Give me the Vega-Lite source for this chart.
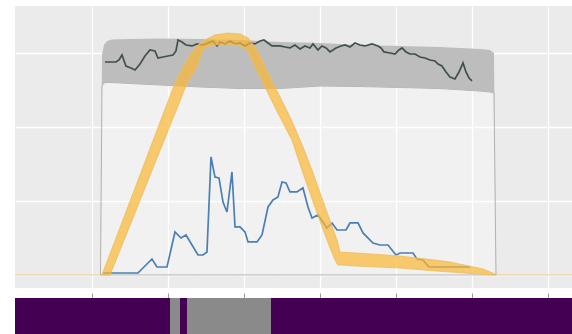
{
  "$schema": "https://vega.github.io/schema/vega-lite/v6.json",
  "background": "white",
  "padding": {"left": 12, "top": 6, "right": 0, "bottom": 0},
  "spacing": 4,
  "config": {
    "view": {"stroke": null},
    "axis": {"labels": false, "ticks": false, "domain": false, "title": null, "gridColor": "#ffffff", "gridWidth": 1.3}
  },
  "datasets": {
    "band": [
      {"x": 11.118, "lo": 0, "hi": 0},
      {"x": 11.316, "lo": 2.554, "hi": 2.973},
      {"x": 11.579, "lo": 2.595, "hi": 3.108},
      {"x": 11.974, "lo": 2.601, "hi": 3.162},
      {"x": 12.632, "lo": 2.601, "hi": 3.182},
      {"x": 15.0, "lo": 2.588, "hi": 3.189},
      {"x": 18.947, "lo": 2.568, "hi": 3.196},
      {"x": 24.211, "lo": 2.541, "hi": 3.189},
      {"x": 29.474, "lo": 2.52, "hi": 3.176},
      {"x": 34.737, "lo": 2.52, "hi": 3.149},
      {"x": 40.0, "lo": 2.554, "hi": 3.135},
      {"x": 45.263, "lo": 2.547, "hi": 3.108},
      {"x": 50.526, "lo": 2.534, "hi": 3.095},
      {"x": 55.789, "lo": 2.52, "hi": 3.081},
      {"x": 61.053, "lo": 2.486, "hi": 3.054},
      {"x": 62.368, "lo": 2.473, "hi": 3.041},
      {"x": 62.895, "lo": 2.459, "hi": 3.0},
      {"x": 63.158, "lo": 0, "hi": 0}
    ],
    "greyline": [
      {"x": 11.71, "y": 2.878}, {"x": 12.37, "y": 2.878}, {"x": 13.16, "y": 2.878}, {"x": 13.55, "y": 2.905},
      {"x": 13.95, "y": 2.973}, {"x": 14.47, "y": 2.824}, {"x": 15.13, "y": 2.797}, {"x": 15.66, "y": 2.77},
      {"x": 16.32, "y": 2.851}, {"x": 16.97, "y": 2.959}, {"x": 17.63, "y": 3.041}, {"x": 18.29, "y": 3.027},
      {"x": 18.68, "y": 2.932}, {"x": 19.34, "y": 2.946}, {"x": 20.0, "y": 2.959}, {"x": 20.66, "y": 2.973},
      {"x": 21.05, "y": 3.027}, {"x": 21.32, "y": 3.176}, {"x": 21.84, "y": 3.149}, {"x": 22.37, "y": 3.108},
      {"x": 23.16, "y": 3.095}, {"x": 23.82, "y": 3.122}, {"x": 24.47, "y": 3.108}, {"x": 25.0, "y": 3.122},
      {"x": 25.53, "y": 3.149}, {"x": 25.92, "y": 3.162}, {"x": 26.45, "y": 3.095}, {"x": 26.84, "y": 3.149},
      {"x": 27.5, "y": 3.122}, {"x": 28.16, "y": 3.162}, {"x": 28.82, "y": 3.122}, {"x": 29.47, "y": 3.135},
      {"x": 30.13, "y": 3.095}, {"x": 30.79, "y": 3.135}, {"x": 31.45, "y": 3.122}, {"x": 32.11, "y": 3.162},
      {"x": 32.63, "y": 3.176}, {"x": 33.16, "y": 3.135}, {"x": 33.68, "y": 3.095}, {"x": 34.74, "y": 3.095},
      {"x": 35.39, "y": 3.081}, {"x": 36.05, "y": 3.068}, {"x": 36.71, "y": 3.108}, {"x": 37.37, "y": 3.054},
      {"x": 38.03, "y": 3.095}, {"x": 38.68, "y": 3.068}, {"x": 39.08, "y": 3.122}, {"x": 39.74, "y": 3.041},
      {"x": 40.26, "y": 3.095}, {"x": 40.79, "y": 3.068}, {"x": 41.32, "y": 3.014}, {"x": 42.11, "y": 3.068},
      {"x": 42.76, "y": 3.095}, {"x": 43.29, "y": 3.108}, {"x": 43.95, "y": 3.081}, {"x": 44.61, "y": 3.135},
      {"x": 45.26, "y": 3.108}, {"x": 45.92, "y": 3.095}, {"x": 46.84, "y": 3.122}, {"x": 47.63, "y": 3.095},
      {"x": 48.03, "y": 3.068}, {"x": 48.42, "y": 3.014}, {"x": 49.21, "y": 3.0}, {"x": 49.87, "y": 2.986},
      {"x": 50.39, "y": 3.041}, {"x": 50.79, "y": 3.068}, {"x": 51.32, "y": 3.014}, {"x": 51.84, "y": 2.986},
      {"x": 52.5, "y": 2.986}, {"x": 53.16, "y": 2.946}, {"x": 53.82, "y": 2.932}, {"x": 54.47, "y": 2.905},
      {"x": 55.13, "y": 2.892}, {"x": 55.53, "y": 2.851}, {"x": 56.05, "y": 2.824}, {"x": 56.58, "y": 2.743},
      {"x": 57.11, "y": 2.676}, {"x": 57.76, "y": 2.649}, {"x": 58.29, "y": 2.743}, {"x": 58.82, "y": 2.865},
      {"x": 59.21, "y": 2.743}, {"x": 59.61, "y": 2.662}, {"x": 60.0, "y": 2.622}
    ],
    "blueline": [
      {"x": 11.45, "y": 0.027}, {"x": 16.05, "y": 0.027}, {"x": 17.89, "y": 0.216}, {"x": 18.55, "y": 0.108},
      {"x": 19.87, "y": 0.108}, {"x": 20.92, "y": 0.581}, {"x": 21.71, "y": 0.5}, {"x": 22.37, "y": 0.541},
      {"x": 23.16, "y": 0.405}, {"x": 23.95, "y": 0.27}, {"x": 24.61, "y": 0.27}, {"x": 25.13, "y": 0.311},
      {"x": 25.66, "y": 1.595}, {"x": 26.18, "y": 1.324}, {"x": 26.71, "y": 1.311}, {"x": 27.24, "y": 0.986},
      {"x": 27.76, "y": 0.851}, {"x": 28.42, "y": 1.392}, {"x": 28.82, "y": 0.649}, {"x": 29.47, "y": 0.649},
      {"x": 30.13, "y": 0.581}, {"x": 30.53, "y": 0.446}, {"x": 31.71, "y": 0.446}, {"x": 32.37, "y": 0.541},
      {"x": 33.16, "y": 0.919}, {"x": 33.82, "y": 1.014}, {"x": 34.47, "y": 1.054}, {"x": 35.0, "y": 1.257},
      {"x": 35.53, "y": 1.243}, {"x": 36.05, "y": 1.122}, {"x": 36.97, "y": 1.122}, {"x": 37.76, "y": 1.176},
      {"x": 38.42, "y": 0.919}, {"x": 38.95, "y": 0.77}, {"x": 39.74, "y": 0.811}, {"x": 40.92, "y": 0.635},
      {"x": 41.58, "y": 0.703}, {"x": 42.24, "y": 0.608}, {"x": 43.42, "y": 0.608}, {"x": 43.95, "y": 0.703},
      {"x": 45.0, "y": 0.703}, {"x": 45.66, "y": 0.568}, {"x": 46.97, "y": 0.432}, {"x": 47.89, "y": 0.405},
      {"x": 48.95, "y": 0.405}, {"x": 50.0, "y": 0.27}, {"x": 50.53, "y": 0.297}, {"x": 52.24, "y": 0.297},
      {"x": 52.76, "y": 0.216}, {"x": 53.55, "y": 0.203}, {"x": 54.34, "y": 0.108}, {"x": 59.74, "y": 0.108}
    ],
    "yellow": [
      {"x": -0.13, "lo": 0, "hi": 0},
      {"x": 11.053, "lo": 0, "hi": 0},
      {"x": 11.316, "lo": 0, "hi": 0},
      {"x": 12.368, "lo": 0, "hi": 0.284},
      {"x": 13.684, "lo": 0.336, "hi": 0.639},
      {"x": 15.0, "lo": 0.673, "hi": 0.995},
      {"x": 16.316, "lo": 1.009, "hi": 1.35},
      {"x": 17.632, "lo": 1.346, "hi": 1.705},
      {"x": 18.947, "lo": 1.682, "hi": 2.061},
      {"x": 20.263, "lo": 2.019, "hi": 2.416},
      {"x": 20.921, "lo": 2.186, "hi": 2.595},
      {"x": 21.579, "lo": 2.355, "hi": 2.73},
      {"x": 21.974, "lo": 2.457, "hi": 2.811},
      {"x": 22.5, "lo": 2.591, "hi": 2.904},
      {"x": 22.895, "lo": 2.659, "hi": 2.973},
      {"x": 23.816, "lo": 2.811, "hi": 3.095},
      {"x": 24.474, "lo": 3.014, "hi": 3.145},
      {"x": 24.868, "lo": 3.081, "hi": 3.176},
      {"x": 26.184, "lo": 3.108, "hi": 3.243},
      {"x": 27.895, "lo": 3.122, "hi": 3.27},
      {"x": 29.474, "lo": 3.099, "hi": 3.257},
      {"x": 30.132, "lo": 3.062, "hi": 3.223},
      {"x": 30.395, "lo": 3.041, "hi": 3.209},
      {"x": 30.526, "lo": 3.012, "hi": 3.203},
      {"x": 31.711, "lo": 2.762, "hi": 3.041},
      {"x": 32.5, "lo": 2.595, "hi": 2.873},
      {"x": 33.816, "lo": 2.324, "hi": 2.595},
      {"x": 34.737, "lo": 2.135, "hi": 2.405},
      {"x": 36.053, "lo": 1.876, "hi": 2.135},
      {"x": 36.316, "lo": 1.824, "hi": 2.073},
      {"x": 37.368, "lo": 1.5, "hi": 1.824},
      {"x": 37.763, "lo": 1.378, "hi": 1.73},
      {"x": 39.079, "lo": 0.996, "hi": 1.378},
      {"x": 39.342, "lo": 0.919, "hi": 1.301},
      {"x": 40.658, "lo": 0.547, "hi": 0.919},
      {"x": 40.921, "lo": 0.473, "hi": 0.845},
      {"x": 41.974, "lo": 0.203, "hi": 0.547},
      {"x": 42.237, "lo": 0.158, "hi": 0.473},
      {"x": 42.368, "lo": 0.135, "hi": 0.419},
      {"x": 42.632, "lo": 0.134, "hi": 0.311},
      {"x": 45.263, "lo": 0.12, "hi": 0.293},
      {"x": 50.526, "lo": 0.095, "hi": 0.257},
      {"x": 54.474, "lo": 0.062, "hi": 0.208},
      {"x": 57.105, "lo": 0.041, "hi": 0.176},
      {"x": 59.737, "lo": 0.022, "hi": 0.119},
      {"x": 61.447, "lo": 0.009, "hi": 0.081},
      {"x": 62.763, "lo": 0, "hi": 0.023},
      {"x": 63.289, "lo": 0, "hi": 0},
      {"x": 73.16, "lo": 0, "hi": 0}
    ],
    "strip": [
      {"x": -0.13, "x2": 20.263, "state": "off"},
      {"x": 20.263, "x2": 21.579, "state": "on"},
      {"x": 21.579, "x2": 22.5, "state": "off"},
      {"x": 22.5, "x2": 33.553, "state": "on"},
      {"x": 33.553, "x2": 73.16, "state": "off"}
    ]
  },
  "vconcat": [
    {
      "width": 557,
      "height": 282,
      "view": {"fill": "#EBEBEB", "stroke": null},
      "encoding": {
        "x": {"field": "x", "type": "quantitative", "scale": {"domain": [-0.13, 73.16], "nice": false, "zero": false},
              "axis": {"values": [10, 20, 30, 40, 50, 60, 70], "grid": true}}
      },
      "layer": [
        {
          "data": {"name": "band"},
          "mark": {"type": "area", "fill": "#FFFFFF", "fillOpacity": 0.3, "stroke": "#A0A0A0", "strokeWidth": 0.8},
          "encoding": {
            "y": {"field": "lo", "type": "quantitative", "scale": {"domain": [-0.176, 3.635], "nice": false, "zero": false},
                  "axis": {"values": [0, 1, 2, 3], "grid": true}},
            "y2": {"datum": 0}
          }
        },
        {
          "data": {"name": "band"},
          "mark": {"type": "area", "fill": "#BDBDBD"},
          "encoding": {
            "y": {"field": "hi", "type": "quantitative", "scale": {"domain": [-0.176, 3.635], "nice": false, "zero": false},
                  "axis": {"values": [0, 1, 2, 3], "grid": true}},
            "y2": {"field": "lo"}
          }
        },
        {
          "data": {"name": "greyline"},
          "mark": {"type": "line", "color": "#3f504e", "strokeWidth": 1.7},
          "encoding": {
            "y": {"field": "y", "type": "quantitative", "scale": {"domain": [-0.176, 3.635], "nice": false, "zero": false},
                  "axis": {"values": [0, 1, 2, 3], "grid": true}}
          }
        },
        {
          "data": {"name": "blueline"},
          "mark": {"type": "line", "color": "#4b7fb3", "strokeWidth": 1.7},
          "encoding": {
            "y": {"field": "y", "type": "quantitative", "scale": {"domain": [-0.176, 3.635], "nice": false, "zero": false},
                  "axis": {"values": [0, 1, 2, 3], "grid": true}}
          }
        },
        {
          "data": {"name": "yellow"},
          "mark": {"type": "area", "fill": "#F9B633", "fillOpacity": 0.7, "stroke": "#EDBE62", "strokeWidth": 1.1, "strokeOpacity": 0.8},
          "encoding": {
            "y": {"field": "hi", "type": "quantitative", "scale": {"domain": [-0.176, 3.635], "nice": false, "zero": false},
                  "axis": {"values": [0, 1, 2, 3], "grid": true}},
            "y2": {"field": "lo"}
          }
        }
      ]
    },
    {
      "width": 557,
      "height": 36,
      "data": {"name": "strip"},
      "mark": {"type": "rect"},
      "encoding": {
        "x": {"field": "x", "type": "quantitative", "scale": {"domain": [-0.13, 73.16], "nice": false, "zero": false},
              "axis": {"orient": "top", "values": [10, 20, 30, 40, 50, 60, 70], "grid": false, "ticks": true, "tickSize": 5, "tickColor": "#9a9a9a", "tickWidth": 1}},
        "x2": {"field": "x2"},
        "color": {"field": "state", "type": "nominal", "scale": {"domain": ["off", "on"], "range": ["#440154", "#8a8a8a"]}, "legend": null}
      }
    }
  ]
}
